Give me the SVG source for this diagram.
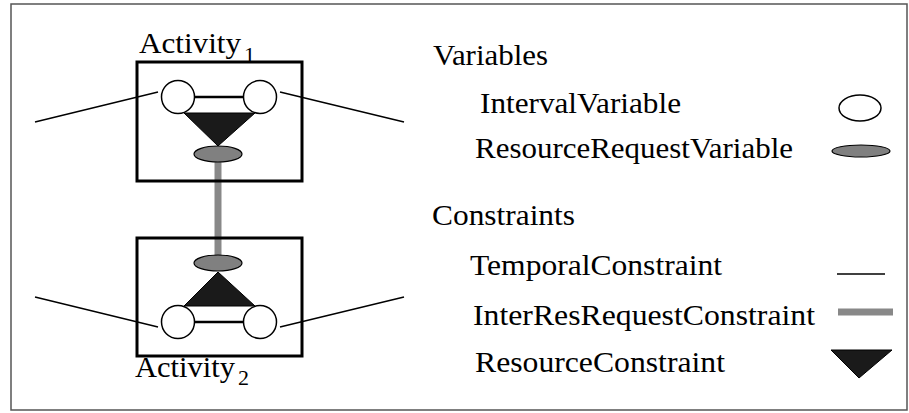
<svg xmlns="http://www.w3.org/2000/svg" width="909" height="413" viewBox="0 0 909 413">
<style>
text{font-family:"Liberation Serif","Times New Roman",serif;font-size:30px;fill:#000}
.sub{font-size:22px}
.box{fill:none;stroke:#000;stroke-width:3}
.iv{fill:#fff;stroke:#000;stroke-width:1.5}
.rr{fill:#808080;stroke:#000;stroke-width:1.2}
.rc{fill:#1a1a1a;stroke:#000;stroke-width:1}
.tc{stroke:#000;stroke-width:1.4;fill:none}
.ir{stroke:#888;stroke-width:7;fill:none}
</style>
<rect x="11" y="4" width="896" height="406" fill="#fff" stroke="#555" stroke-width="1.5"/>
<g id="connectors">
<line class="ir" x1="218" y1="162" x2="218" y2="256"/>
<line class="tc" x1="35" y1="122" x2="158" y2="92"/>
<line class="tc" x1="280" y1="92" x2="404" y2="122"/>
<line class="tc" x1="35" y1="297" x2="158" y2="327"/>
<line class="tc" x1="280" y1="327" x2="404" y2="297"/>
</g>
<g id="activity1">
<rect class="box" x="137" y="62" width="165" height="119"/>
<text x="139" y="53" textLength="102" lengthAdjust="spacingAndGlyphs">Activity</text><text class="sub" x="244" y="62">1</text>
<line x1="194" y1="97" x2="243" y2="97" stroke="#000" stroke-width="2.5"/>
<polygon class="rc" points="184,113 255,113 218,146"/>
<circle class="iv" cx="178" cy="97" r="16.5"/>
<circle class="iv" cx="260" cy="97" r="16.5"/>
<ellipse class="rr" cx="218" cy="154" rx="24" ry="8"/>
</g>
<g id="activity2">
<rect class="box" x="137" y="238" width="165" height="118"/>
<text x="135" y="377" textLength="100" lengthAdjust="spacingAndGlyphs">Activity</text><text class="sub" x="238" y="385">2</text>
<line x1="194" y1="322" x2="243" y2="322" stroke="#000" stroke-width="2.5"/>
<polygon class="rc" points="184,306 255,306 218,272"/>
<circle class="iv" cx="178" cy="322" r="16.5"/>
<circle class="iv" cx="260" cy="322" r="16.5"/>
<ellipse class="rr" cx="218" cy="263" rx="24" ry="8"/>
</g>
<g id="legend-variables">
<text x="433" y="65" textLength="115" lengthAdjust="spacingAndGlyphs">Variables</text>
</g>
<g id="legend-interval">
<text x="480" y="113" textLength="201" lengthAdjust="spacingAndGlyphs">IntervalVariable</text>
<ellipse class="iv" cx="860" cy="108" rx="21" ry="13"/>
</g>
<g id="legend-resreq">
<text x="475" y="158" textLength="318" lengthAdjust="spacingAndGlyphs">ResourceRequestVariable</text>
<ellipse class="rr" cx="861" cy="151" rx="29" ry="6"/>
</g>
<g id="legend-constraints">
<text x="432" y="225" textLength="143" lengthAdjust="spacingAndGlyphs">Constraints</text>
</g>
<g id="legend-temporal">
<text x="470" y="275" textLength="252" lengthAdjust="spacingAndGlyphs">TemporalConstraint</text>
<line class="tc" x1="837" y1="274" x2="885" y2="274"/>
</g>
<g id="legend-interres">
<text x="473" y="325" textLength="342" lengthAdjust="spacingAndGlyphs">InterResRequestConstraint</text>
<line class="ir" x1="838" y1="312" x2="893" y2="312"/>
</g>
<g id="legend-resource">
<text x="475" y="372" textLength="250" lengthAdjust="spacingAndGlyphs">ResourceConstraint</text>
<polygon class="rc" points="831,350 892,350 859,378"/>
</g>
</svg>
